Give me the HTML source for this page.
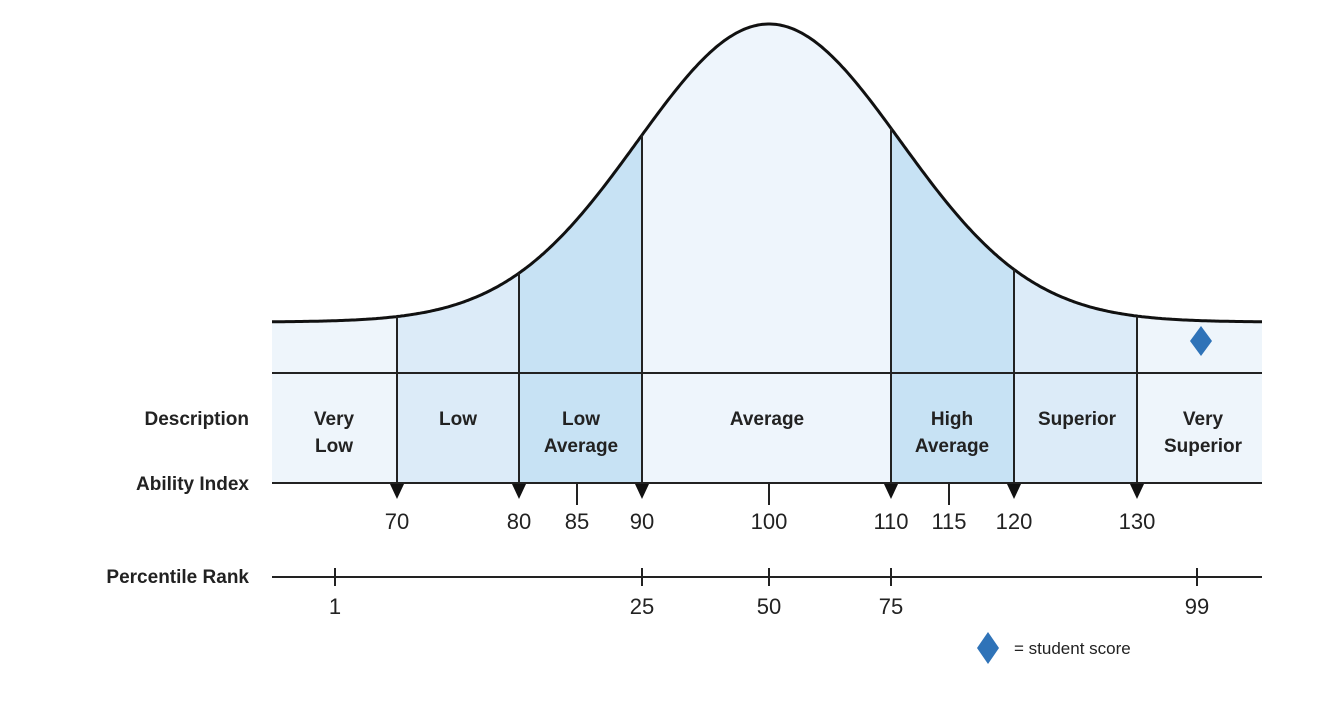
<!DOCTYPE html>
<html><head><meta charset="utf-8"><style>
html,body{margin:0;padding:0;background:#fff;}
svg{display:block;font-family:"Liberation Sans",Arial,sans-serif;}
.b{font-weight:bold;font-size:19px;fill:#222;}
.n{font-size:22px;fill:#222;}
</style></head><body>
<svg id="s" width="1318" height="724" viewBox="0 0 1318 724">
<defs><clipPath id="cp"><path id="area"/></clipPath></defs>
<g clip-path="url(#cp)">
<rect x="272" y="0" width="125" height="483" fill="#eef5fb"/>
<rect x="397" y="0" width="122" height="483" fill="#dcebf8"/>
<rect x="519" y="0" width="123" height="483" fill="#c7e2f4"/>
<rect x="642" y="0" width="249" height="483" fill="#eef5fc"/>
<rect x="891" y="0" width="123" height="483" fill="#c7e2f4"/>
<rect x="1014" y="0" width="123" height="483" fill="#dcebf8"/>
<rect x="1137" y="0" width="125" height="483" fill="#eef5fb"/>
</g>
<path id="curve" fill="none" stroke="#111" stroke-width="3"/>
<g stroke="#222" stroke-width="2">
<line x1="272" y1="373" x2="1262" y2="373"/>
<line x1="272" y1="483" x2="1262" y2="483"/>
<line x1="272" y1="577" x2="1262" y2="577"/>
<line x1="577" y1="483" x2="577" y2="505"/>
<line x1="769" y1="483" x2="769" y2="505"/>
<line x1="949" y1="483" x2="949" y2="505"/>
<line x1="335" y1="568" x2="335" y2="586"/>
<line x1="642" y1="568" x2="642" y2="586"/>
<line x1="769" y1="568" x2="769" y2="586"/>
<line x1="891" y1="568" x2="891" y2="586"/>
<line x1="1197" y1="568" x2="1197" y2="586"/>
</g>
<g id="arrows" stroke="#222" stroke-width="2" fill="#111"></g>
<polygon points="1201,326 1212,341 1201,356 1190,341" fill="#2f73b8"/>
<polygon points="988,632 999,648 988,664 977,648" fill="#2f73b8"/>
<text x="1014" y="654" font-size="17" fill="#222">= student score</text>
<g class="b" text-anchor="end">
<text x="249" y="425">Description</text>
<text x="249" y="490">Ability Index</text>
<text x="249" y="583">Percentile Rank</text>
</g>
<g class="b" text-anchor="middle">
<text x="334" y="425">Very</text><text x="334" y="452">Low</text>
<text x="458" y="425">Low</text>
<text x="581" y="425">Low</text><text x="581" y="452">Average</text>
<text x="767" y="425">Average</text>
<text x="952" y="425">High</text><text x="952" y="452">Average</text>
<text x="1077" y="425">Superior</text>
<text x="1203" y="425">Very</text><text x="1203" y="452">Superior</text>
</g>
<g class="n" text-anchor="middle">
<text x="397" y="529">70</text>
<text x="519" y="529">80</text>
<text x="577" y="529">85</text>
<text x="642" y="529">90</text>
<text x="769" y="529">100</text>
<text x="891" y="529">110</text>
<text x="949" y="529">115</text>
<text x="1014" y="529">120</text>
<text x="1137" y="529">130</text>
<text x="335" y="614">1</text>
<text x="642" y="614">25</text>
<text x="769" y="614">50</text>
<text x="891" y="614">75</text>
<text x="1197" y="614">99</text>
</g>
</svg>
<script>
function f(x){return 322-298*Math.exp(-Math.pow(x-769,2)/(2*131.5*131.5));}
var d="";for(var x=272;x<=1262;x+=2){d+=(x==272?"M":"L")+x+","+f(x).toFixed(1)+" ";}
document.getElementById("curve").setAttribute("d",d);
document.getElementById("area").setAttribute("d",d+"L1262,483 L272,483 Z");
var g=document.getElementById("arrows"),ns="http://www.w3.org/2000/svg";
[397,519,642,891,1014,1137].forEach(function(x){
var l=document.createElementNS(ns,"line");l.setAttribute("x1",x);l.setAttribute("x2",x);
l.setAttribute("y1",f(x));l.setAttribute("y2",487);g.appendChild(l);
var p=document.createElementNS(ns,"polygon");p.setAttribute("points",(x-7)+",484 "+(x+7)+",484 "+x+",499");
p.setAttribute("stroke","none");g.appendChild(p);});
</script>
</body></html>
